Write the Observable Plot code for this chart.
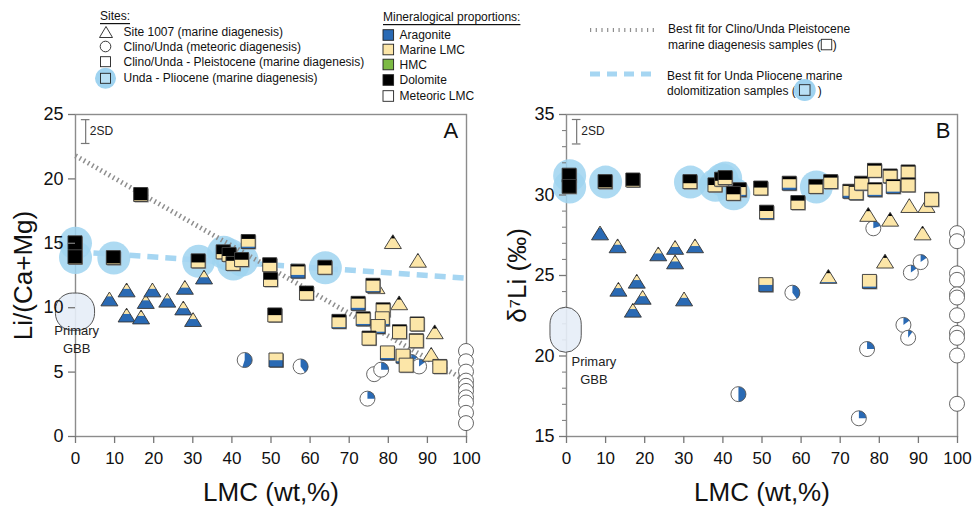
<!DOCTYPE html>
<html><head><meta charset="utf-8">
<script src="https://cdn.jsdelivr.net/npm/d3@7"></script>
<script src="https://cdn.jsdelivr.net/npm/@observablehq/plot@0.6"></script>
<style>
body{margin:0;background:#fff;font-family:"Liberation Sans",Arial,Helvetica,sans-serif;}
#page{position:relative;width:972px;height:506px;overflow:hidden;background:#fff}
#legend{position:absolute;left:0;top:0;overflow:visible}
#row{position:absolute;left:0;top:100px;display:flex}
#row svg{overflow:visible}
</style></head><body><div id="page"><svg id="legend" width="972" height="110"></svg><div id="row"></div></div>
<script>
// ---------- DATA ----------
const xTicks = [0,10,20,30,40,50,60,70,80,90,100];
const yTicksA = [0,5,10,15,20,25];
const yTicksB = [15,20,25,30,35];
const yMinorB = [16,17,18,19,21,22,23,24,26,27,28,29,31,32,33,34];

// squares / triangles: [LMC wt%, value, aragonite, marine LMC, dolomite] (fractions)
// circles: [LMC wt%, value, aragonite fraction]
const plioSquaresA = [
  [0,15.0,0,0,1],[0,13.9,0,0.05,0.95],[9.8,13.85,0,0.1,0.9],[31.5,13.6,0,0.4,0.6],
  [37.9,14.3,0,0.35,0.65],[39.4,14.1,0,0.4,0.6],[40.4,13.4,0,0.7,0.3],[42.6,13.7,0,0.5,0.5],
  [63.9,13.1,0,0.65,0.35]
];
const pleistSquaresA = [
  [16.8,18.75,0,0.1,0.9],[44.3,15.1,0.15,0.55,0.3],[49.8,13.3,0,0.65,0.35],[50,12.15,0,0.5,0.5],
  [57,12.8,0.25,0.6,0.15],[59.2,11.1,0,0.65,0.35],[51.1,9.4,0,0.5,0.5],[51.4,5.9,0.5,0.5,0],
  [67.5,8.9,0.1,0.7,0.2],[76.2,11.7,0.1,0.75,0.15],[72.4,10.3,0.2,0.65,0.15],[73.7,9.1,0.15,0.75,0.1],
  [78.8,9.8,0.1,0.8,0.1],[78.6,9.1,0.15,0.85,0],[77.5,8.5,0.15,0.85,0],[75.2,7.6,0,0.9,0.1],
  [83,8.1,0,0.9,0.1],[87.5,8.7,0,0.95,0.05],[87.3,7.4,0,0.95,0.05],[79.9,6.45,0.15,0.85,0],
  [83.9,6.2,0.15,0.85,0],[84.7,5.5,0,1,0],[93.3,5.4,0,0.95,0.05]
];
const trianglesA = [
  [8.8,10.5,0.7,0.3,0],[13.2,11.2,0.6,0.3,0.1],[13.2,9.25,0.6,0.3,0.1],[18.1,10.3,0.6,0.3,0.1],
  [16.9,9.1,0.6,0.3,0.1],[19.8,11.2,0.6,0.35,0.05],[23.6,10.4,0.65,0.35,0],[28.1,11.4,0.5,0.4,0.1],
  [27.7,9.8,0.5,0.4,0.1],[30.2,8.9,0.55,0.4,0.05],[33,12.2,0.5,0.4,0.1],
  [81.3,14.95,0,0.75,0.25],[87.7,13.5,0,0.9,0.1],[77.1,11.45,0,0.75,0.25],[82.9,10.2,0,0.75,0.25],
  [92,7.95,0,0.75,0.25],[91.1,6.2,0,0.9,0.1]
];
const circlesA = [
  [43.4,5.9,0.55],[57.7,5.4,0.4],[74.8,2.9,0.25],[76.5,4.8,0],[78.3,5.15,0.25],[86,5.75,0.15],[88,5.4,0.15],
  [100,6.6,0],[100,5.8,0],[100,5.0,0],[100,4.3,0],[100,3.9,0],[100,3.5,0],[100,3.0,0],[100,2.6,0],[100,1.8,0],[100,1.0,0]
];

const plioSquaresB = [
  [0.8,31.2,0,0,1],[0.8,30.5,0,0.05,0.95],[10,30.8,0,0.1,0.9],[31.7,30.8,0,0.4,0.6],
  [38.1,30.6,0,0.5,0.5],[39.8,30.95,0,0.4,0.6],[40.7,31.05,0,0.35,0.65],[42.8,30.07,0,0.45,0.55],
  [63.9,30.5,0,0.65,0.35]
];
const pleistSquaresB = [
  [17.1,30.9,0,0.1,0.9],[44.3,30.3,0.15,0.55,0.3],[49.8,30.4,0,0.55,0.45],[51.3,28.9,0.1,0.5,0.4],
  [57.1,30.7,0.2,0.6,0.2],[59.3,29.5,0,0.65,0.35],[67.7,30.8,0.05,0.75,0.2],[72.6,30.2,0.2,0.7,0.1],
  [74.2,30.1,0.05,0.9,0.05],[75.6,30.7,0.05,0.8,0.15],[78.9,31.5,0,0.85,0.15],[79,30.3,0.15,0.75,0.1],
  [82.9,31.15,0.05,0.85,0.1],[83.7,30.5,0.15,0.75,0.1],[87.5,31.4,0,0.9,0.1],[87.5,30.6,0,0.9,0.1],
  [93.5,29.7,0,0.95,0.05],[51.1,24.4,0.5,0.5,0],[77.6,24.6,0.15,0.85,0]
];
const trianglesB = [
  [8.7,27.5,0.9,0.1,0],[13.2,26.7,0.6,0.3,0.1],[23.6,26.2,0.55,0.35,0.1],[27.9,26.6,0.55,0.35,0.1],
  [27.9,25.7,0.55,0.35,0.1],[33,26.7,0.5,0.4,0.1],[13.4,24.0,0.6,0.3,0.1],[18.1,24.5,0.6,0.3,0.1],
  [17.1,22.7,0.6,0.3,0.1],[19.6,23.5,0.6,0.35,0.05],[30.2,23.4,0.6,0.35,0.05],
  [67.1,24.8,0.1,0.65,0.25],[81.6,25.75,0,0.75,0.25],[77.3,28.65,0,0.75,0.25],[82.9,28.35,0,0.75,0.25],
  [87.8,29.2,0,0.95,0.05],[92.2,29.2,0,0.95,0.05],[91.2,27.5,0,0.85,0.15]
];
const circlesB = [
  [78.6,27.9,0.2],[57.9,23.9,0.4],[44.1,17.6,0.5],[74.9,16.1,0.25],[77,20.4,0.25],[86.3,21.9,0.15],
  [87.5,21.1,0.1],[88.2,25.15,0.15],[90.7,25.8,0.15],
  [100,27.6,0],[100,27.1,0],[100,25.1,0],[100,24.7,0],[100,23.8,0],[100,23.6,0],[100,22.5,0],
  [100,21.4,0],[100,21.1,0],[100,20.0,0],[100,17.0,0]
];

// best-fit lines (panel A)
const fitPleistA = [[0,21.8],[100,4.3]];
const fitPlioA = [[0,14.35],[100,12.3]];
// Primary GBB field
const gbbA = [{x1:-5,x2:5,y1:8.2,y2:11.1}];
const gbbB = [{x1:-4.1,x2:3.9,y1:20.2,y2:23.0}];
const gbbLabelA = [{x:0.3,y:7.6,t:"Primary\nGBB"}];
const gbbLabelB = [{x:7,y:19.15,t:"Primary\nGBB"}];
// 2SD error bars
const sdA = [{x:2.6,y1:22.75,y2:24.6,xa:1.5,xb:3.7,lx:3.65,ly:23.7}];
const sdB = [{x:2.6,y1:33.17,y2:34.69,xa:1.5,xb:3.7,lx:3.76,ly:33.96}];
const panelLabelA = [{x:96,y:23.7,t:"A"}];
const panelLabelB = [{x:96.3,y:33.96,t:"B"}];

// colours
const ARAG = "#2a6ab4", MLMC = "#fce6a8", HMC = "#7cba44", DOL = "#000000", METEO = "#ffffff";
const HALO = "#9fd3f0";

// ---------- MARKERS ----------
let clipN = 0;
function drawShape(gi, shape, d) {
  if (shape === "circle") {
    const r = 7.5;
    gi.append("circle").attr("r", r).attr("fill", METEO);
    const f = d[2];
    if (f > 0) gi.append("path").attr("d", d3.arc()({innerRadius:0, outerRadius:r, startAngle:0, endAngle:2*Math.PI*f})).attr("fill", ARAG);
    gi.append("circle").attr("r", r).attr("fill", "none").attr("stroke", "#555").attr("stroke-width", 0.9);
    return;
  }
  let top, bot, outline;
  if (shape === "square") { top = -7; bot = 7; outline = "M-7,-7H7V7H-7Z";
    gi.append("path").attr("d", outline).attr("transform","translate(1,1)").attr("fill","#8a8a8a");
  } else { top = -8.7; bot = 5.1; outline = "M0,-8.7L8.5,5.1H-8.5Z"; }
  const H = bot - top;
  const id = "clp" + (clipN++);
  gi.append("clipPath").attr("id", id).append("path").attr("d", outline);
  const bands = gi.append("g").attr("clip-path", `url(#${id})`);
  bands.append("rect").attr("x",-10).attr("y",-10).attr("width",20).attr("height",20).attr("fill","#fff");
  let y0 = bot;
  for (const [f, c] of [[d[2], ARAG], [d[3], MLMC], [d[4], DOL]]) {
    if (f > 0) {
      bands.append("rect").attr("x",-10).attr("width",20).attr("y", y0 - f*H - 0.2).attr("height", f*H + 0.4).attr("fill", c);
      y0 -= f*H;
    }
  }
  gi.append("path").attr("d", outline).attr("fill","none").attr("stroke","#333").attr("stroke-width",0.9);
}
function composite(data, shape) {
  return Plot.dot(data, {
    x: d => d[0], y: d => d[1],
    render(index, scales, values) {
      const g = d3.create("svg:g");
      for (const i of index) {
        const gi = g.append("g").attr("transform", `translate(${values.x[i]},${values.y[i]})`);
        drawShape(gi, shape, data[i]);
      }
      return g.node();
    }
  });
}

const FONT = "'Liberation Sans', Arial, Helvetica, sans-serif";
const GRID = "#8c8c8c";

function panel({yDomain, yTicks, minor, yLabel, labelOffsetY, plio, pleist, tri, circ, fits, gbb, gbbLabel, sd, pl, mL, mR}) {
  const marks = [
    Plot.frame({stroke: GRID, strokeWidth: 1.4}),
    Plot.dot(plio, {x: d => d[0], y: d => d[1], r: 16.5, fill: HALO, fillOpacity: 0.85, stroke: "none"}),
  ];
  if (fits) {
    marks.push(Plot.line(fits[1], {x: d => d[0], y: d => d[1], stroke: "#a6d6f2", strokeWidth: 5.5, strokeDasharray: "11,7", strokeLinecap: "butt"}));
    marks.push(Plot.line(fits[0], {x: d => d[0], y: d => d[1], stroke: "#8e8e8e", strokeWidth: 5, strokeDasharray: "1.5,3.3", strokeLinecap: "butt"}));
  }
  if (minor) marks.push(Plot.axisY({ticks: minor, tickSize: 4, stroke: "#777", strokeWidth: 1, tickFormat: () => "", label: null}));
  marks.push(
    Plot.rect(gbb, {x1: "x1", x2: "x2", y1: "y1", y2: "y2", rx: 17, fill: "#e5edf7", fillOpacity: 0.9, stroke: "#555", strokeWidth: 1}),
    Plot.text(gbbLabel, {x: "x", y: "y", text: "t", fontSize: 13, lineHeight: 1.38, fill: "#222"}),
    Plot.ruleX(sd, {x: "x", y1: "y1", y2: "y2", stroke: "#777", strokeWidth: 1.2}),
    Plot.ruleY(sd, {y: "y1", x1: "xa", x2: "xb", stroke: "#777", strokeWidth: 1.2}),
    Plot.ruleY(sd, {y: "y2", x1: "xa", x2: "xb", stroke: "#777", strokeWidth: 1.2}),
    Plot.text(sd, {x: "lx", y: "ly", text: () => "2SD", textAnchor: "start", fontSize: 12, fill: "#222"}),
    Plot.text(pl, {x: "x", y: "y", text: "t", fontSize: 22, fill: "#111"}),
    composite(circ, "circle"),
    composite(tri, "triangle"),
    composite(pleist, "square"),
    composite(plio, "square"),
    Plot.axisX({ticks: xTicks, tickSize: 7, tickPadding: 8, fontSize: 17, stroke: "#777", strokeWidth: 1.3, label: null, fill: "#111"}),
    Plot.axisX({ticks: [], tickSize: 0, label: "LMC (wt,%)", labelAnchor: "center", labelArrow: "none", labelOffset: 64, fontSize: 26, fill: "#111", dx: -8}),
    Plot.axisY({ticks: yTicks, tickSize: 7, tickPadding: 5, fontSize: 18, stroke: "#777", strokeWidth: 1.3, label: null, fill: "#111"}),
    Plot.axisY({ticks: [], tickSize: 0, label: yLabel, labelAnchor: "center", labelArrow: "none", labelOffset: labelOffsetY, fontSize: 26, fill: "#111", dy: -6})
  );
  return Plot.plot({
    width: 486, height: 406,
    marginLeft: mL, marginRight: mR, marginTop: 14, marginBottom: 70,
    x: {domain: [0, 100]},
    y: {domain: yDomain},
    style: {fontFamily: FONT, background: "transparent", overflow: "visible", color: "#111"},
    marks
  });
}

const row = document.getElementById("row");
row.append(panel({yDomain: [0,25], yTicks: yTicksA, yLabel: "Li/(Ca+Mg)", labelOffsetY: 62,
  plio: plioSquaresA, pleist: pleistSquaresA, tri: trianglesA, circ: circlesA, fits: [fitPleistA, fitPlioA],
  gbb: gbbA, gbbLabel: gbbLabelA, sd: sdA, pl: panelLabelA, mL: 75, mR: 20}));
row.append(panel({yDomain: [15,35], yTicks: yTicksB, minor: yMinorB, yLabel: "δ⁷Li (‰)", labelOffsetY: 59,
  plio: plioSquaresB, pleist: pleistSquaresB, tri: trianglesB, circ: circlesB, fits: null,
  gbb: gbbB, gbbLabel: gbbLabelB, sd: sdB, pl: panelLabelB, mL: 80, mR: 15}));

// ---------- LEGEND ----------
const siteItems = ["Site 1007 (marine diagenesis)", "Clino/Unda (meteoric diagenesis)", "Clino/Unda - Pleistocene (marine diagenesis)", "Unda - Pliocene (marine diagenesis)"];
const mineralItems = ["Aragonite", "Marine LMC", "HMC", "Dolomite", "Meteoric LMC"];
const mineralColors = [ARAG, MLMC, HMC, DOL, METEO];
const fitItems = [["Best fit for Clino/Unda Pleistocene", "marine diagenesis samples ("], ["Best fit for Unda Pliocene marine", "dolomitization samples ( "]];

const L = d3.select("#legend").style("font-family", FONT).style("font-size", "12px");
const txt = (x, y, s, extra) => { const t = L.append("text").attr("x", x).attr("y", y).attr("dominant-baseline", "central").attr("fill", "#111").text(s); if (extra) t.attr("text-decoration", "underline"); return t; };
txt(100, 16, "Sites:", true);
const siteY = [32, 46.5, 61.5, 78];
siteItems.forEach((s, i) => txt(123.5, siteY[i], s));
L.append("path").attr("d", "M106,26.5L112.5,37.5H99.5Z").attr("fill", "#fff").attr("stroke", "#222").attr("stroke-width", 0.9);
L.append("circle").attr("cx", 105.5).attr("cy", 46.5).attr("r", 5.3).attr("fill", "#fff").attr("stroke", "#222").attr("stroke-width", 0.9);
L.append("rect").attr("x", 100.5).attr("y", 56.7).attr("width", 10).attr("height", 10).attr("fill", "#fff").attr("stroke", "#222").attr("stroke-width", 0.9);
L.append("circle").attr("cx", 105.5).attr("cy", 78.3).attr("r", 10.5).attr("fill", HALO);
L.append("rect").attr("x", 100.5).attr("y", 73.3).attr("width", 10).attr("height", 10).attr("fill", "#b9e0f5").attr("stroke", "#222").attr("stroke-width", 0.9);

txt(383, 17, "Mineralogical proportions:", true);
const minY = [35, 49.5, 64.5, 80, 96];
mineralItems.forEach((s, i) => {
  L.append("rect").attr("x", 383).attr("y", minY[i] - 5.3).attr("width", 10.6).attr("height", 10.6).attr("fill", mineralColors[i]).attr("stroke", "#222").attr("stroke-width", 0.9);
  txt(399.5, minY[i], s);
});

L.append("line").attr("x1", 590).attr("x2", 658).attr("y1", 30).attr("y2", 30).attr("stroke", "#8e8e8e").attr("stroke-width", 4).attr("stroke-dasharray", "1.2,4.5");
txt(668, 29, fitItems[0][0]);
const t1 = txt(668, 44.5, fitItems[0][1]);
let w1 = t1.node().getComputedTextLength();
L.append("rect").attr("x", 668 + w1 + 0.5).attr("y", 39.3).attr("width", 10.5).attr("height", 10.5).attr("fill", "#fff").attr("stroke", "#222").attr("stroke-width", 0.9);
txt(668 + w1 + 12, 44.5, ")");

L.append("line").attr("x1", 590).attr("x2", 658).attr("y1", 74).attr("y2", 74).attr("stroke", "#a6d6f2").attr("stroke-width", 5).attr("stroke-dasharray", "10,7");
txt(667, 76, fitItems[1][0]);
const t2 = txt(667, 90.5, fitItems[1][1]);
let w2 = t2.node().getComputedTextLength();
const hx = 667 + w2 + 9;
L.append("circle").attr("cx", hx).attr("cy", 90).attr("r", 11).attr("fill", HALO);
L.append("rect").attr("x", hx - 5.3).attr("y", 84.7).attr("width", 10.6).attr("height", 10.6).attr("fill", "#b9e0f5").attr("stroke", "#222").attr("stroke-width", 0.9);
txt(hx + 13, 90.5, ")");
</script>
</body></html>
